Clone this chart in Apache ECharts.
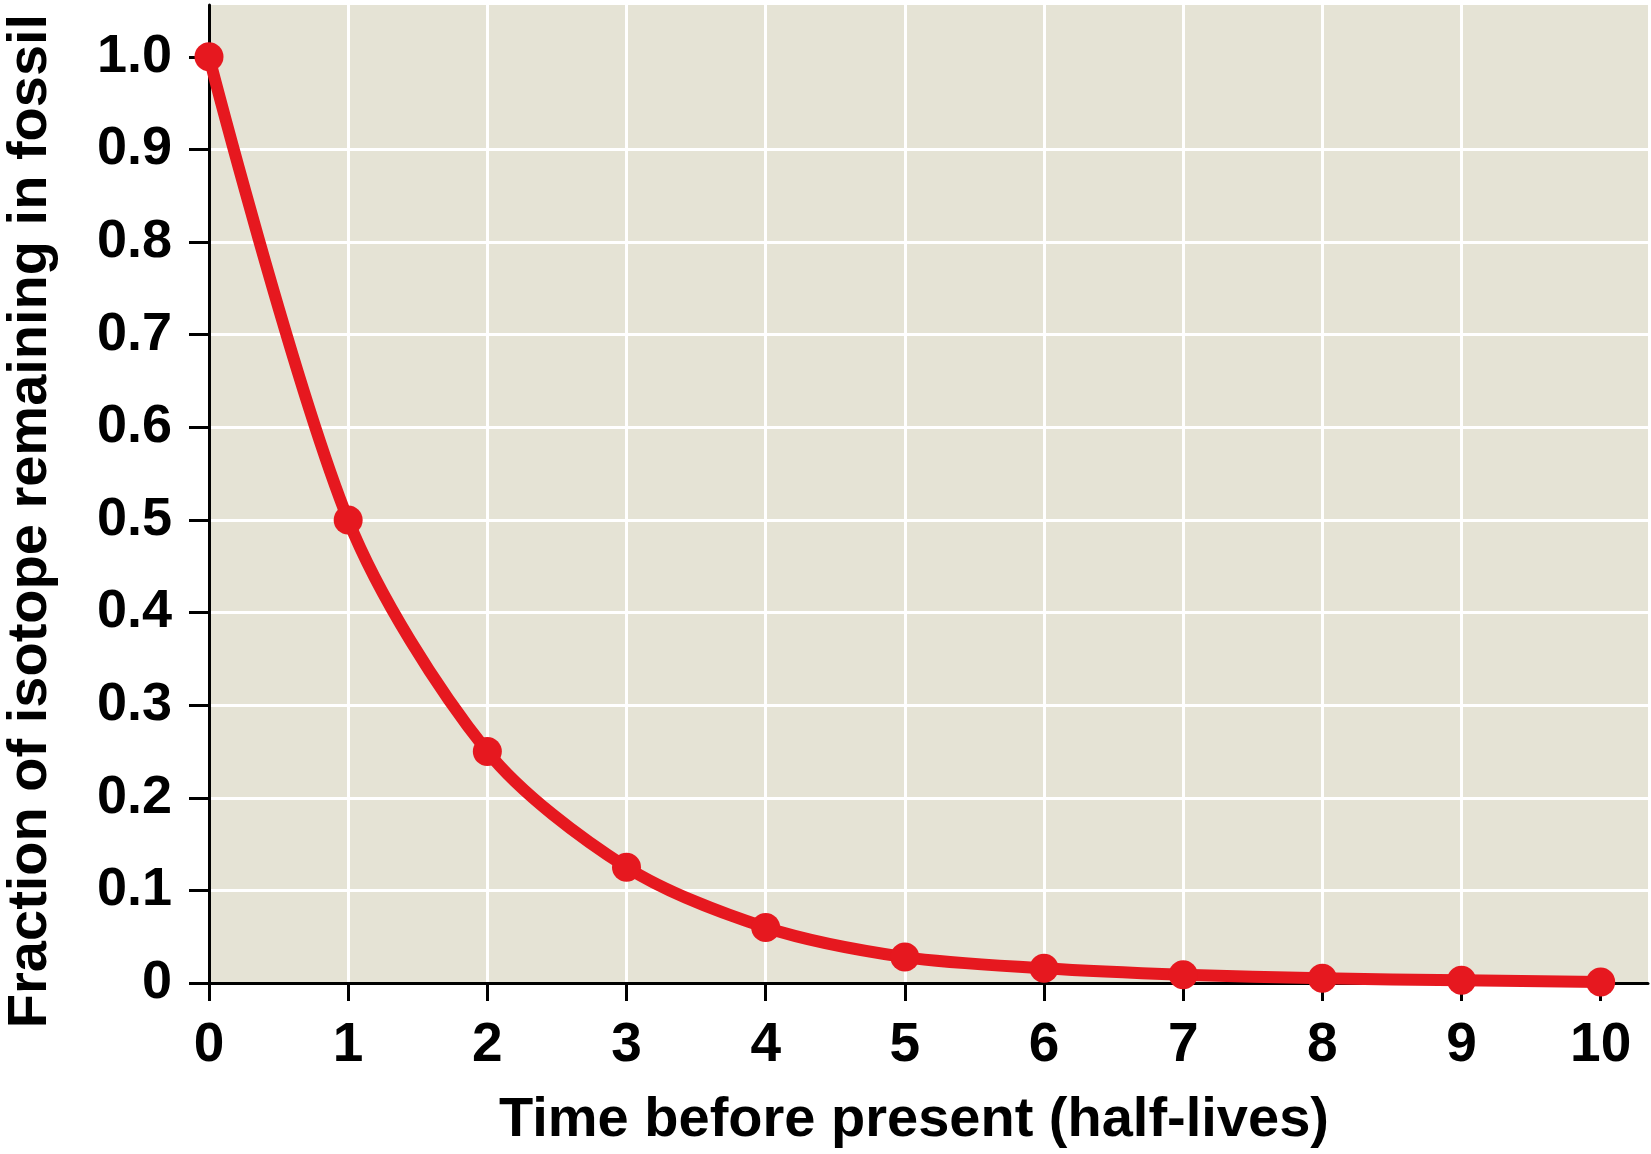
<!DOCTYPE html>
<html>
<head>
<meta charset="utf-8">
<script src="https://cdn.jsdelivr.net/npm/echarts@6/dist/echarts.min.js"></script>
<style>
  html, body { margin: 0; padding: 0; background: #fff; }
  #chart { width: 1651px; height: 1154px; }
</style>
</head>
<body>
<div id="chart"></div>
<script>
// half-lives elapsed
var halfLives = [0, 1, 2, 3, 4, 5, 6, 7, 8, 9, 10];
// fraction of isotope left
var fractionLeft = [1.0, 0.5, 0.25, 0.125, 0.06, 0.028, 0.016, 0.009, 0.005, 0.003, 0.001];
var xTicks = [0, 1, 2, 3, 4, 5, 6, 7, 8, 9, 10];
var yTicks = [0, 0.1, 0.2, 0.3, 0.4, 0.5, 0.6, 0.7, 0.8, 0.9, 1.0];

var myChart = echarts.init(document.getElementById('chart'));

var red = '#e6181f';
var font = 'Liberation Sans, Arial, sans-serif';

var option = {
  animation: false,
  grid: {
    left: 209,
    top: 5,
    right: 3,
    bottom: 171,
    show: true,
    backgroundColor: '#e5e3d5',
    borderWidth: 0,
    containLabel: false,
    outerBoundsMode: 'none'
  },
  xAxis: {
    type: 'value',
    min: 0,
    max: 10.34,
    interval: 1,
    name: 'Time before present (half-lives)',
    nameLocation: 'middle',
    nameGap: 110,
    nameTextStyle: {
      fontFamily: font,
      fontWeight: 'bold',
      fontSize: 56,
      color: '#000',
      padding: [0, 29, 0, 0]
    },
    axisLine: { show: true, onZero: false, lineStyle: { color: '#000', width: 3 } },
    axisTick: { show: true, length: 18, lineStyle: { color: '#000', width: 3 }, customValues: xTicks },
    axisLabel: {
      customValues: xTicks,
      margin: 35,
      fontFamily: font,
      fontWeight: 'bold',
      fontSize: 55,
      color: '#000'
    },
    splitLine: { show: true, showMinLine: false, showMaxLine: false, lineStyle: { color: '#fff', width: 3 } }
  },
  yAxis: {
    type: 'value',
    min: 0,
    max: 1.056,
    interval: 0.1,
    name: 'Fraction of isotope remaining in fossil',
    nameLocation: 'middle',
    nameGap: 150,
    nameTextStyle: {
      fontFamily: font,
      fontWeight: 'bold',
      fontSize: 56,
      color: '#000',
      padding: [0, 54, 0, 0]
    },
    axisLine: { show: true, lineStyle: { color: '#000', width: 3 } },
    axisTick: { show: true, length: 20, lineStyle: { color: '#000', width: 3 }, customValues: yTicks },
    axisLabel: {
      customValues: yTicks,
      margin: 37,
      fontFamily: font,
      fontWeight: 'bold',
      fontSize: 54,
      color: '#000',
      formatter: function (v) { return v === 0 ? '0' : v.toFixed(1); }
    },
    splitLine: { show: true, showMinLine: false, showMaxLine: false, lineStyle: { color: '#fff', width: 3 } }
  },
  series: [
    {
      type: 'line',
      data: halfLives.map(function (t, i) { return [t, fractionLeft[i]]; }),
      smooth: 0.3,
      symbol: 'circle',
      symbolSize: 29,
      clip: false,
      lineStyle: { color: red, width: 12 },
      itemStyle: { color: red }
    }
  ]
};

myChart.setOption(option);
</script>
</body>
</html>
